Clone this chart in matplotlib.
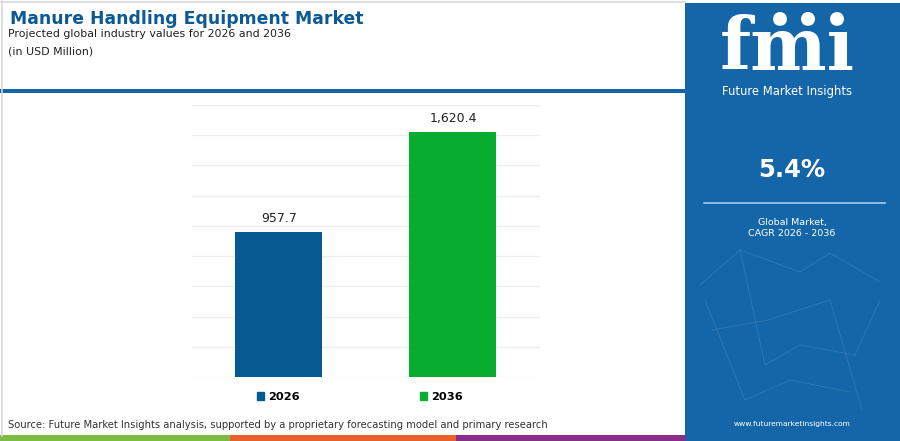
import matplotlib
matplotlib.use("Agg")
import matplotlib.pyplot as plt
import matplotlib.patches as mpatches

years = ["2026", "2036"]
values = [957.7, 1620.4]
value_labels = ["957.7", "1,620.4"]
bar_colors = ["#065a91", "#08ac2f"]
cagr_text = "5.4%"

TITLE = "Manure Handling Equipment Market"
SUBTITLE = "Projected global industry values for 2026 and 2036"
UNITS = "(in USD Million)"
SOURCE = "Source: Future Market Insights analysis, supported by a proprietary forecasting model and primary research"

BLUE = "#1566a8"
DARK_BLUE = "#0c5a94"
TEXT = "#222222"

fig = plt.figure(figsize=(9, 4.41), dpi=100)
fig.patch.set_facecolor("white")

# background / layout layer in pixel coordinates
bg = fig.add_axes([0, 0, 1, 1])
bg.set_xlim(0, 900)
bg.set_ylim(441, 0)
bg.axis("off")

bg.plot([1, 685], [1.5, 1.5], color="#d8d8d8", lw=1.2)
bg.plot([1.5, 1.5], [1, 436], color="#d8d8d8", lw=1.2)
bg.add_patch(mpatches.Rectangle((0, 89), 685, 4, color=BLUE, lw=0))
bg.add_patch(mpatches.Rectangle((685, 3), 215, 438, color=BLUE, lw=0))

# bottom colour stripe
for x0, x1, c in [(0, 230, "#7dbb42"), (230, 456, "#e8612c"), (456, 685, "#8a2d86")]:
    bg.add_patch(mpatches.Rectangle((x0, 435), x1 - x0, 6, color=c, lw=0))

# faint network decoration in panel
net = [((700, 740), (285, 250)), ((740, 800), (250, 272)), ((800, 830), (272, 253)),
       ((830, 880), (253, 282)), ((740, 765), (250, 365)), ((765, 800), (365, 345)),
       ((800, 855), (345, 355)), ((855, 880), (355, 300)), ((712, 768), (330, 320)),
       ((768, 830), (320, 300)), ((830, 862), (300, 410)), ((745, 790), (400, 380)),
       ((790, 850), (380, 392)), ((705, 745), (300, 400))]
for xs, ys in net:
    bg.plot(xs, ys, color="#6ea3cf", lw=0.5, alpha=0.35)

bg.text(10, 19, TITLE, fontsize=12.4, fontweight="bold", color=DARK_BLUE,
        va="center", ha="left")
bg.text(8, 34, SUBTITLE, fontsize=7.9, color=TEXT, va="center", ha="left")
bg.text(8, 51, UNITS, fontsize=7.9, color=TEXT, va="center", ha="left")
bg.text(8, 425, SOURCE, fontsize=7.2, color="#333333", va="center", ha="left")

# fmi logo
bg.text(787, 50, "fmı", fontsize=52, fontweight="bold", color="white",
        family="DejaVu Serif", ha="center", va="center")
for yy in range(26, 78, 4):
    bg.plot([715, 860], [yy, yy], color=BLUE, lw=1.0)
for cx in [780, 808, 837]:
    bg.add_patch(mpatches.Circle((cx, 19), 7, color="white", lw=0))
bg.text(787, 92, "Future Market Insights", fontsize=8.4, color="white",
        ha="center", va="center")

bg.text(792, 170, cagr_text, fontsize=17.5, fontweight="bold", color="white",
        ha="center", va="center")
bg.plot([704, 885], [203, 203], color="#a9c9e6", lw=1.2)
bg.text(792, 222, "Global Market,", fontsize=6.8, color="white", ha="center", va="center")
bg.text(792, 234, "CAGR 2026 - 2036", fontsize=6.8, color="white", ha="center", va="center")
bg.text(792, 424, "www.futuremarketinsights.com", fontsize=5.4, color="white",
        ha="center", va="center")

# main bar chart
ax = fig.add_axes([191.7 / 900, 64 / 441, (540 - 191.7) / 900, 272 / 441])
ax.set_facecolor("none")
x = range(len(years))
bars = ax.bar(x, values, width=0.5, color=bar_colors, zorder=3)
ax.set_xlim(-0.5, 1.5)
ax.set_ylim(0, 1800)
ax.set_yticks(range(0, 1801, 200))
ax.grid(axis="y", color="#eeeeee", lw=1, zorder=0)
ax.tick_params(left=False, bottom=False, labelleft=False, labelbottom=False)
for s in ax.spines.values():
    s.set_visible(False)
for b, lab in zip(bars, value_labels):
    ax.annotate(lab, (b.get_x() + b.get_width() / 2, b.get_height()),
                xytext=(0, 5), textcoords="offset points", ha="center", va="bottom",
                fontsize=9, color=TEXT)

handles = [mpatches.Patch(color=c, label=y) for c, y in zip(bar_colors, years)]
leg = fig.legend(handles=handles, loc="center", bbox_to_anchor=(360 / 900, 1 - 397 / 441),
                 ncol=2, frameon=False, handlelength=0.6, handleheight=0.6,
                 handletextpad=0.4, columnspacing=10.5,
                 prop={"weight": "bold", "size": 8.2})

fig.savefig("out.png", dpi=100, facecolor="white")
